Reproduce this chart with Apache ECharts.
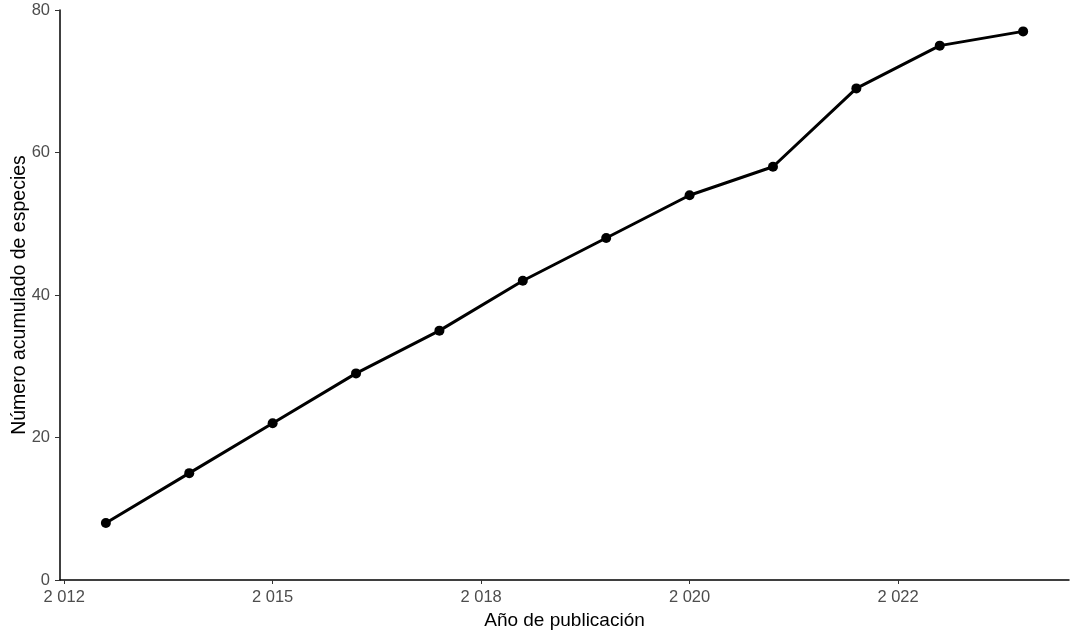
<!DOCTYPE html>
<html>
<head>
<meta charset="utf-8">
<script src="https://cdn.jsdelivr.net/npm/echarts@6/dist/echarts.min.js"></script>
<style>
  html, body { margin: 0; padding: 0; background: #fff; }
  #chart { width: 1079px; height: 638px; }
</style>
</head>
<body>
<div id="chart"></div>
<script>
// datos
var years = [2013, 2014, 2015, 2016, 2017, 2018, 2019, 2020, 2021, 2022, 2023, 2024];
var especies = [8, 15, 22, 29, 35, 42, 48, 54, 58, 69, 75, 77];
var xTickValues = [2012.5, 2015, 2017.5, 2020, 2022.5];
var xTickLabels = ['2 012', '2 015', '2 018', '2 020', '2 022'];

var myChart = echarts.init(document.getElementById('chart'));
var pts = years.map(function (y, i) { return [y, especies[i]]; });

myChart.setOption({
  animation: false,
  grid: { left: 60, right: 10, top: 10, bottom: 58, containLabel: false, outerBoundsMode: 'none' },
  xAxis: {
    type: 'value',
    min: 2012.45,
    max: 2024.55,
    name: 'Año de publicación',
    nameLocation: 'middle',
    nameGap: 31,
    nameMoveOverlap: false,
    nameTextStyle: { color: '#000', fontSize: 19, fontFamily: 'Liberation Sans' },
    axisLine: { show: true, onZero: false, lineStyle: { color: '#000', width: 1.5 } },
    axisTick: { show: true, length: 4, customValues: xTickValues, lineStyle: { color: '#333' } },
    axisLabel: {
      customValues: xTickValues,
      color: '#4D4D4D',
      fontSize: 16.5,
      fontFamily: 'Liberation Sans',
      margin: 9,
      formatter: function (v) {
        var i = xTickValues.indexOf(v);
        return i >= 0 ? xTickLabels[i] : '';
      }
    },
    splitLine: { show: false }
  },
  yAxis: {
    type: 'value',
    min: 0,
    max: 80,
    interval: 20,
    name: 'Número acumulado de especies',
    nameLocation: 'middle',
    nameGap: 30,
    nameMoveOverlap: false,
    nameTextStyle: { color: '#000', fontSize: 19.5, fontFamily: 'Liberation Sans' },
    axisLine: { show: true, lineStyle: { color: '#000', width: 1.5 } },
    axisTick: { show: true, length: 5, lineStyle: { color: '#333' } },
    axisLabel: { color: '#4D4D4D', fontSize: 16.5, fontFamily: 'Liberation Sans', margin: 10 },
    splitLine: { show: false }
  },
  series: [
    {
      type: 'line',
      data: pts,
      symbol: 'circle',
      symbolSize: 10,
      lineStyle: { color: '#000', width: 3 },
      itemStyle: { color: '#000' }
    }
  ]
});
</script>
</body>
</html>
